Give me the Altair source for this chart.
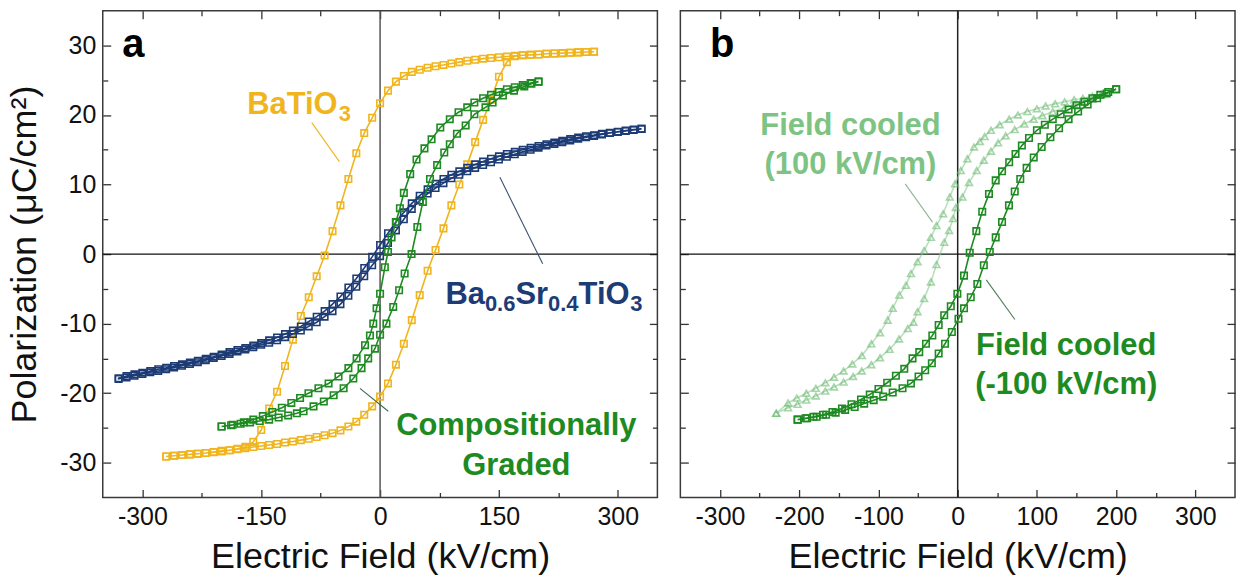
import altair as alt
import pandas as pd

FONT = "Liberation Sans"

# ---------------- data ----------------
# Panel a : BaTiO3  (upper branch: field decreasing, lower branch: field increasing)
BTO_UP_E = [270, 260, 250, 240, 230, 220, 210, 200, 190, 180, 170, 160, 150, 140, 130, 120, 110, 100, 90, 80,
            70, 60, 50, 40, 30, 20, 10, 0, -10, -20, -30, -40, -50, -60, -70, -80, -90, -100, -110, -120,
            -130, -140, -150, -160, -170, -180, -190, -200, -210, -220, -230, -240, -250, -260, -270]
BTO_UP_P = [29.1, 29.05, 29.0, 28.95, 28.9, 28.85, 28.8, 28.7, 28.65, 28.6, 28.5, 28.4, 28.3, 28.2, 28.1, 27.95, 27.8, 27.6, 27.4, 27.2,
            27.0, 26.8, 26.5, 26.2, 25.6, 24.8, 23.5, 21.7, 19.6, 17.4, 14.5, 10.8, 7.0, 3.3, -0.2, -3.2, -6.2, -8.9, -12.3, -16.1,
            -19.8, -22.2, -25.3, -27.0, -27.7, -28.0, -28.2, -28.4, -28.5, -28.6, -28.7, -28.8, -28.9, -29.0, -29.1]
BTO_LO_E = [-270, -260, -250, -240, -230, -220, -210, -200, -190, -180, -170, -160, -150, -140, -130, -120, -110, -100, -90, -80,
            -70, -60, -50, -40, -30, -20, -10, 0, 10, 20, 30, 40, 50, 60, 70, 80, 90, 100, 110, 120,
            130, 140, 150, 160, 170, 180, 190, 200, 210, 220, 230, 240, 250, 260, 270]
BTO_LO_P = [-29.1, -29.0, -28.9, -28.8, -28.7, -28.6, -28.45, -28.3, -28.2, -28.05, -27.9, -27.75, -27.6, -27.45, -27.3, -27.1, -26.95, -26.75, -26.55, -26.3,
            -26.05, -25.75, -25.35, -24.8, -24.1, -23.1, -21.9, -20.5, -18.6, -15.9, -12.9, -9.5, -5.9, -2.4, 0.6, 3.7, 7.0, 10.0, 12.9, 16.1,
            19.3, 22.2, 25.5, 27.6, 28.45, 28.6, 28.65, 28.7, 28.8, 28.85, 28.9, 28.95, 29.0, 29.05, 29.1]

# Panel a : Ba0.6Sr0.4TiO3
BST_UP_E = [330, 320, 310, 300, 290, 280, 270, 260, 250, 240, 230, 220, 210, 200, 190, 180, 170, 160, 150, 140,
            130, 120, 110, 100, 90, 80, 70, 60, 50, 40, 30, 20, 10, 0, -10, -20, -30, -40, -50, -60,
            -70, -80, -90, -100, -110, -120, -130, -140, -150, -160, -170, -180, -190, -200, -210, -220, -230, -240,
            -250, -260, -270, -280, -290, -300, -310, -320, -330]
BST_UP_P = [18.0, 17.9, 17.75, 17.6, 17.45, 17.3, 17.1, 16.95, 16.75, 16.55, 16.3, 16.05, 15.8, 15.55, 15.3, 15.0, 14.7, 14.4, 14.05, 13.7,
            13.3, 12.9, 12.4, 11.9, 11.4, 10.8, 10.1, 9.3, 8.4, 7.3, 6.0, 4.6, 3.0, 1.3, -0.4, -2.0, -3.5, -4.8, -6.1, -7.2,
            -8.2, -9.0, -9.7, -10.4, -11.0, -11.5, -12.0, -12.4, -12.8, -13.15, -13.5, -13.8, -14.1, -14.45, -14.75, -15.05, -15.35, -15.6,
            -15.85, -16.1, -16.35, -16.55, -16.8, -17.05, -17.3, -17.55, -17.85]
BST_LO_E = [-330, -320, -310, -300, -290, -280, -270, -260, -250, -240, -230, -220, -210, -200, -190, -180, -170, -160, -150, -140,
            -130, -120, -110, -100, -90, -80, -70, -60, -50, -40, -30, -20, -10, 0, 10, 20, 30, 40, 50, 60,
            70, 80, 90, 100, 110, 120, 130, 140, 150, 160, 170, 180, 190, 200, 210, 220, 230, 240,
            250, 260, 270, 280, 290, 300, 310, 320, 330]
BST_LO_P = [-17.95, -17.75, -17.5, -17.25, -17.0, -16.8, -16.55, -16.3, -16.05, -15.8, -15.55, -15.25, -14.95, -14.65, -14.35, -14.0, -13.7, -13.4, -13.05, -12.75,
            -12.4, -11.95, -11.5, -11.0, -10.4, -9.8, -9.0, -8.2, -7.2, -6.0, -4.7, -3.2, -1.6, -0.3, 1.6, 3.4, 5.0, 6.5, 7.7, 8.7,
            9.5, 10.2, 10.9, 11.4, 11.9, 12.4, 12.8, 13.2, 13.6, 14.0, 14.35, 14.7, 15.0, 15.3, 15.6, 15.85, 16.1, 16.35,
            16.6, 16.8, 17.0, 17.2, 17.4, 17.55, 17.7, 17.85, 18.0]

# Panel a : compositionally graded
CG_UP_E = [200, 190, 180, 170, 160, 150, 140, 130, 119, 110, 99, 88, 76, 65, 56, 46, 38, 30, 25, 20,
           14.5, 10, 6, 0, -4.4, -8.6, -12.8, -19, -29.6, -40, -52.5, -65, -77.8, -90.4, -101, -112, -124, -136, -148, -160,
           -172, -186, -200]
CG_UP_P = [24.8, 24.6, 24.3, 24.0, 23.7, 23.3, 22.9, 22.4, 21.8, 21.1, 20.4, 19.4, 18.2, 16.5, 15.2, 13.6, 11.5, 8.8, 6.6, 4.6,
           2.4, 0.3, -1.9, -5.7, -7.8, -10.0, -11.7, -13.1, -15.0, -16.4, -17.6, -18.6, -19.3, -20.0, -20.7, -21.4, -22.1, -22.7, -23.3, -23.8,
           -24.2, -24.55, -24.8]
CG_LO_E = [-200, -188, -176, -164, -152, -140, -128, -116, -105, -96.6, -84, -71, -58.6, -46, -33.8, -23.4, -15, -6.5, 0, 8,
           16.6, 24, 31, 39.7, 47, 54, 63, 72, 81, 88, 97, 108, 119, 133, 142, 155, 169, 182, 191, 200]
CG_LO_P = [-24.8, -24.6, -24.4, -24.2, -24.0, -23.8, -23.5, -23.2, -22.9, -22.6, -21.9, -21.2, -20.3, -19.3, -17.9, -16.4, -15.0, -13.6, -11.6, -10.0,
           -7.6, -5.2, -2.8, 0.0, 3.9, 7.5, 10.8, 12.8, 14.6, 15.8, 17.3, 18.5, 20.1, 21.1, 21.8, 22.8, 23.5, 24.1, 24.5, 24.8]

# Panel b : field cooled (+100 kV/cm), light green triangles
FCP_UP_E = [181, 170, 158, 147, 135, 123, 111, 100, 88, 76, 65, 53, 42, 34, 28, 20.6, 12.2, 3.9, -3.3, -10,
            -18.4, -26.8, -33.8, -42.3, -50.7, -59, -65.3, -73.7, -82, -88.4, -98, -109, -121, -133, -144, -156, -167, -179, -191, -203,
            -214, -229]
FCP_UP_P = [22.9, 22.7, 22.4, 22.2, 21.9, 21.6, 21.3, 20.9, 20.5, 20.0, 19.4, 18.6, 17.8, 16.9, 16.2, 15.4, 13.7, 12.0, 10.1, 8.2,
            5.8, 4.1, 2.4, 0.5, -1.1, -2.8, -4.5, -5.9, -7.8, -9.5, -11.3, -12.9, -14.6, -15.8, -16.8, -17.7, -18.5, -19.3, -20.0, -20.7,
            -21.4, -22.9]
FCP_LO_E = [-229, -214, -202, -191, -179, -167, -156, -144, -132, -121, -109, -98, -86, -74, -63, -55.8, -50.7, -42.3, -33.8, -26.8,
            -17, -10.8, -5.8, -2.4, 6, 14.3, 24, 33, 42, 51, 60.5, 72, 84, 96, 107, 120, 135, 147, 158, 170, 181]
FCP_LO_P = [-22.9, -22.1, -21.6, -21.0, -20.4, -19.7, -19.1, -18.4, -17.6, -16.8, -15.9, -14.9, -13.7, -12.2, -10.7, -9.8, -8.3, -6.4, -4.0, -1.5,
            1.7, 3.4, 5.1, 6.7, 8.2, 10.3, 12.0, 13.5, 14.8, 16.0, 17.0, 17.9, 18.7, 19.4, 19.9, 20.5, 21.0, 21.5, 21.9, 22.3, 22.9]

# Panel b : field cooled (-100 kV/cm), dark green squares
FCN_UP_E = [200, 190, 180, 170, 160, 150, 140, 130, 120, 110, 100, 90, 81, 73, 65, 56, 48, 39.5, 31, 23.5,
            15.2, 8, -0.4, -8.7, -17, -24, -32, -40, -48.5, -57, -67.4, -78, -89, -100, -111, -122, -134, -146, -158, -170,
            -182, -192, -202]
FCN_UP_P = [23.7, 23.3, 22.9, 22.4, 21.9, 21.4, 20.8, 20.1, 19.4, 18.6, 17.8, 16.7, 15.6, 14.4, 13.2, 11.9, 10.6, 8.65, 6.1, 3.3,
            0.2, -3.1, -5.7, -7.5, -8.8, -10.2, -11.7, -12.9, -14.1, -15.0, -16.5, -17.5, -18.5, -19.4, -20.2, -20.9, -21.6, -22.2, -22.7, -23.1,
            -23.4, -23.6, -23.8]
FCN_LO_E = [-202, -190, -178, -166, -154, -142, -130, -118, -106, -94, -82, -69.6, -59, -49.4, -41, -32.6, -24, -16, -7.4, 1,
            8, 16.5, 24.8, 33, 40.5, 48, 56, 64.7, 72, 79, 87, 96, 106, 117, 128, 140, 152, 164, 176, 188, 200]
FCN_LO_P = [-23.8, -23.6, -23.4, -23.1, -22.8, -22.4, -22.0, -21.5, -21.0, -20.5, -19.9, -19.3, -18.6, -17.6, -16.7, -15.7, -14.3, -12.9, -11.2, -9.3,
            -7.8, -6.2, -4.3, -1.6, 0.3, 2.4, 4.6, 7.0, 9.0, 10.8, 12.4, 13.9, 15.4, 16.8, 18.1, 19.4, 20.5, 21.5, 22.4, 23.1, 23.7]

# axis ticks
XA_MAJOR = [-300, -150, 0, 150, 300]
XA_MINOR = [-225, -75, 75, 225]
XB_MAJOR = [-300, -200, -100, 0, 100, 200, 300]
XB_MINOR = [-250, -150, -50, 50, 150, 250]
Y_MAJOR = [-30, -20, -10, 0, 10, 20, 30]
Y_MINOR = [-25, -15, -5, 5, 15, 25]

X_TITLE = "Electric Field (kV/cm)"
Y_TITLE = "Polarization (\u03bcC/cm\u00b2)"

# ---------------- colours ----------------
GOLD = "#F0B51E"
NAVY = "#1D3B75"
GREEN = "#1E8A22"
LIGHT = "#6CBB73"
LIGHT_TXT = "#7DC383"

W, H = 556, 488
XS = alt.Scale(domain=[-350, 350], nice=False, zero=False)
YS = alt.Scale(domain=[-35, 35], nice=False, zero=False)


def loop_df(e1, p1, e2, p2):
    E = list(e1) + list(e2)
    P = list(p1) + list(p2)
    return pd.DataFrame({"E": E, "P": P, "i": list(range(len(E)))})


def mk_axis(orient, values, size, labels=False, title=None):
    d = dict(orient=orient, values=values, tickSize=size, offset=-size, domain=False, grid=False,
             labels=labels, ticks=True, tickColor="#333333", tickWidth=1.3)
    if labels:
        d.update(labelFont=FONT, labelFontSize=25, labelColor="#111111", labelPadding=7,
                 labelExpr="'' + datum.value")
    if title:
        d.update(title=title, titleFont=FONT, titleFontSize=36, titleFontWeight="normal",
                 titleColor="#111111", titlePadding=(10 if orient in ("bottom", "top") else 16))
    else:
        d["title"] = None
    return alt.Axis(**d)


def curve_layers(df, color, shape, axes_list, opacity=1.0, line_color=None, size=42):
    layers = []
    lc = line_color or color
    xa, ya = axes_list.pop(0) if axes_list else (None, None)
    layers.append(alt.Chart(df).mark_line(color=lc, strokeWidth=1.6, opacity=opacity).encode(
        x=alt.X("E:Q", scale=XS, axis=xa), y=alt.Y("P:Q", scale=YS, axis=ya), order=alt.Order("i:Q")))
    xa, ya = axes_list.pop(0) if axes_list else (None, None)
    layers.append(alt.Chart(df).mark_point(shape=shape, filled=False, color=color, size=size,
                                           strokeWidth=1.6, opacity=opacity).encode(
        x=alt.X("E:Q", scale=XS, axis=xa), y=alt.Y("P:Q", scale=YS, axis=ya)))
    return layers


def text_layer(e, p, txt, color, size, weight="bold", align="left"):
    df = pd.DataFrame({"E": [e], "P": [p], "t": [txt]})
    return alt.Chart(df).mark_text(font=FONT, fontSize=size, fontWeight=weight, color=color,
                                   align=align, baseline="alphabetic").encode(
        x=alt.X("E:Q", scale=XS, axis=None), y=alt.Y("P:Q", scale=YS, axis=None), text="t:N")


def leader(e1, p1, e2, p2, color):
    df = pd.DataFrame({"E": [e1], "P": [p1], "E2": [e2], "P2": [p2]})
    return alt.Chart(df).mark_rule(color=color, strokeWidth=1.1).encode(
        x=alt.X("E:Q", scale=XS, axis=None), y=alt.Y("P:Q", scale=YS, axis=None),
        x2="E2:Q", y2="P2:Q")


def zero_lines(vcolor):
    v = alt.Chart(pd.DataFrame({"E": [0]})).mark_rule(color=vcolor, strokeWidth=1.5).encode(
        x=alt.X("E:Q", scale=XS, axis=None))
    h = alt.Chart(pd.DataFrame({"P": [0]})).mark_rule(color="#111111", strokeWidth=1.3).encode(
        y=alt.Y("P:Q", scale=YS, axis=None))
    return [v, h]


def axes_for(xmaj, xmin, ylabels):
    return [
        (mk_axis("bottom", xmaj, 8, labels=True, title=X_TITLE),
         mk_axis("left", Y_MAJOR, 8, labels=ylabels, title=(Y_TITLE if ylabels else None))),
        (mk_axis("bottom", xmin, 5), mk_axis("left", Y_MINOR, 5)),
        (mk_axis("top", xmaj, 8), mk_axis("right", Y_MAJOR, 8)),
        (mk_axis("top", xmin, 5), mk_axis("right", Y_MINOR, 5)),
    ]


# ---------------- panel a ----------------
axes_a = axes_for(XA_MAJOR, XA_MINOR, True)
layers_a = zero_lines("#555555")
layers_a += curve_layers(loop_df(BTO_UP_E, BTO_UP_P, BTO_LO_E, BTO_LO_P), GOLD, "square", axes_a)
layers_a += curve_layers(loop_df(BST_UP_E, BST_UP_P, BST_LO_E, BST_LO_P), NAVY, "square", axes_a)
layers_a += curve_layers(loop_df(CG_UP_E, CG_UP_P, CG_LO_E, CG_LO_P), GREEN, "square", axes_a)
layers_a += [
    leader(-86.2, 18.9, -51.4, 13.3, GOLD),
    leader(151.2, 11.05, 205.2, -1.4, "#3D5275"),
    leader(-25.4, -19.3, 10.3, -22.6, "#3A6A50"),
    text_layer(-325.4, 28.3, "a", "#000000", 40),
    text_layer(-167.7, 20.1, "BaTiO", GOLD, 31),
    text_layer(-52.1, 19.1, "3", GOLD, 22),
    text_layer(82.5, -7.2, "Ba", NAVY, 31),
    text_layer(132.3, -8.2, "0.6", NAVY, 22),
    text_layer(170.8, -7.2, "Sr", NAVY, 31),
    text_layer(212.0, -8.2, "0.4", NAVY, 22),
    text_layer(250.5, -7.2, "TiO", NAVY, 31),
    text_layer(315.6, -8.2, "3", NAVY, 22),
    text_layer(172, -26.0, "Compositionally", GREEN, 31, align="center"),
    text_layer(172, -31.7, "Graded", GREEN, 31, align="center"),
]
panel_a = alt.layer(*layers_a).properties(width=W, height=H).resolve_axis(x="independent", y="independent")

# ---------------- panel b ----------------
axes_b = axes_for(XB_MAJOR, XB_MINOR, False)
layers_b = zero_lines("#222222")
layers_b += curve_layers(loop_df(FCP_UP_E, FCP_UP_P, FCP_LO_E, FCP_LO_P), LIGHT, "triangle-up", axes_b,
                         opacity=0.6, line_color="#8ACB8F", size=46)
layers_b += curve_layers(loop_df(FCN_UP_E, FCN_UP_P, FCN_LO_E, FCN_LO_P), GREEN, "square", axes_b)
layers_b += [
    leader(-66.2, 10.1, -31.8, 4.6, "#8DB596"),
    leader(36.1, -3.7, 72.2, -9.4, "#4F7A5A"),
    text_layer(-312.7, 28.3, "b", "#000000", 40),
    text_layer(-135.3, 17.1, "Field cooled", LIGHT_TXT, 31, align="center"),
    text_layer(-135.3, 11.5, "(100 kV/cm)", LIGHT_TXT, 31, align="center"),
    text_layer(137, -14.5, "Field cooled", GREEN, 31, align="center"),
    text_layer(137, -20.1, "(-100 kV/cm)", GREEN, 31, align="center"),
]
panel_b = alt.layer(*layers_b).properties(width=W, height=H).resolve_axis(x="independent", y="independent")

chart = alt.hconcat(panel_a, panel_b, spacing=19).properties(
    padding={"left": 6, "top": 8, "right": 1, "bottom": 0},
    background="white",
).configure_view(stroke="#3a3a3a", strokeWidth=1.5)

chart.save("out.html", embed_options={"renderer": "svg", "actions": False})
